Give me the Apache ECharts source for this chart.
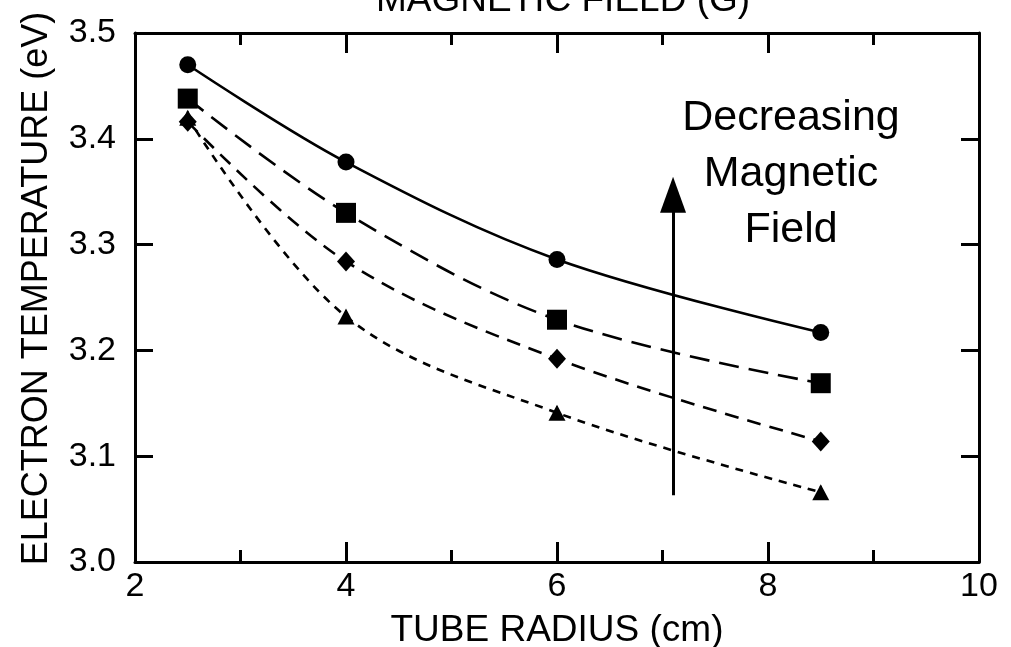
<!DOCTYPE html>
<html><head><meta charset="utf-8">
<script src="https://cdn.jsdelivr.net/npm/echarts@6/dist/echarts.min.js"></script>
<style>html,body{margin:0;padding:0;background:#fff}#c{width:1011px;height:647px}</style>
</head><body><div id="c"></div>
<script>
const radius = [2.5, 4, 6, 8.5];
const circleT = [3.470, 3.378, 3.286, 3.217];
const squareT = [3.438, 3.330, 3.229, 3.169];
const diamondT = [3.416, 3.284, 3.192, 3.114];
const triangleT = [3.420, 3.232, 3.141, 3.066];
const errBar = [0.006, 0.006, 0.006, 0.006];
const xTicks = [2, 4, 6, 8, 10];
const yTicks = [3.0, 3.1, 3.2, 3.3, 3.4, 3.5];
const arrowX = 7.10, arrowFrom = 3.063, arrowTo = 3.347;

const FONT = 'Liberation Sans, Arial, sans-serif';
const chart = echarts.init(document.getElementById('c'));

function pts(ys){ return radius.map((x,i)=>[x, ys[i]]); }
function lineSeries(ys, symbol, size, dash){
  return {
    type:'line', data: pts(ys), smooth: 0.35,
    symbol: symbol, symbolSize: size,
    itemStyle:{color:'#000'},
    lineStyle:{color:'#000', width:2.6, type: dash},
    z: 3
  };
}
function errSeries(ys){
  return {
    type:'custom',
    data: radius.map((x,i)=>[x, ys[i]-errBar[i], ys[i]+errBar[i]]),
    renderItem:function(params, api){
      const lo = api.coord([api.value(0), api.value(1)]);
      const hi = api.coord([api.value(0), api.value(2)]);
      return {type:'line', shape:{x1:lo[0], y1:lo[1], x2:hi[0], y2:hi[1]},
              style:{stroke:'#000', lineWidth:2}};
    }, z: 2
  };
}
const axisCommon = {
  axisLine:{show:true, onZero:false, lineStyle:{color:'#000', width:3}},
  splitLine:{show:false}
};
chart.setOption({
  animation:false,
  grid:{left:135, right:32, top:33, bottom:85, containLabel:false, outerBoundsMode:'none'},
  xAxis:[
    Object.assign({type:'value', min:2, max:10, interval:2, position:'bottom',
      name:'TUBE RADIUS (cm)', nameLocation:'middle', nameGap:50,
      nameTextStyle:{color:'#000', fontSize:37, fontFamily:FONT},
      axisTick:{show:true, inside:true, length:20, lineStyle:{color:'#000', width:3}},
      minorTick:{show:true, splitNumber:2, length:12, lineStyle:{color:'#000', width:3}},
      axisLabel:{color:'#000', fontSize:34, fontFamily:FONT, margin:8,
        formatter: v=>String(v)}
    }, axisCommon),
    Object.assign({type:'value', min:2, max:10, interval:2, position:'top',
      axisTick:{show:true, inside:true, length:20, lineStyle:{color:'#000', width:3}},
      minorTick:{show:true, splitNumber:2, length:12, lineStyle:{color:'#000', width:3}},
      axisLabel:{show:false}
    }, axisCommon)
  ],
  yAxis:[
    Object.assign({type:'value', min:3.0, max:3.5, interval:0.1, position:'left',
      name:'ELECTRON TEMPERATURE (eV)', nameLocation:'middle', nameGap:80,
      nameTextStyle:{color:'#000', fontSize:36, fontFamily:FONT, padding:[0,0,0,18]},
      axisTick:{show:true, inside:true, length:18, lineStyle:{color:'#000', width:3}},
      axisLabel:{color:'#000', fontSize:34, fontFamily:FONT, margin:19,
        formatter: v=>v.toFixed(1)}
    }, axisCommon),
    Object.assign({type:'value', min:3.0, max:3.5, interval:0.1, position:'right',
      axisTick:{show:true, inside:true, length:18, lineStyle:{color:'#000', width:3}},
      axisLabel:{show:false}
    }, axisCommon)
  ],
  series:[
    lineSeries(circleT, 'circle', 17, 'solid'),
    lineSeries(squareT, 'rect', 20, [20, 10]),
    lineSeries(diamondT, 'diamond', [18, 20], [14, 9]),
    lineSeries(triangleT, 'triangle', [17, 16], [8, 7]),
    errSeries(circleT), errSeries(squareT), errSeries(diamondT), errSeries(triangleT),
    {
      type:'line', data:[], silent:true,
      markLine:{
        silent:true, symbol:['none','triangle'], symbolSize:[26,36],
        label:{show:false},
        lineStyle:{color:'#000', width:3, type:'solid'},
        data:[[{coord:[arrowX, arrowFrom]},{coord:[arrowX, arrowTo]}]]
      }
    }
  ],
  graphic:[
    {type:'text', x:563, y:-18, style:{
      text:'MAGNETIC FIELD (G)', fill:'#000', font:'37px '+FONT, textAlign:'center'}},
    {type:'text', x:791, y:90, style:{
      text:'Decreasing\nMagnetic\nField', fill:'#000', font:'43px '+FONT,
      textAlign:'center', lineHeight:56}}
  ]
});
</script></body></html>
